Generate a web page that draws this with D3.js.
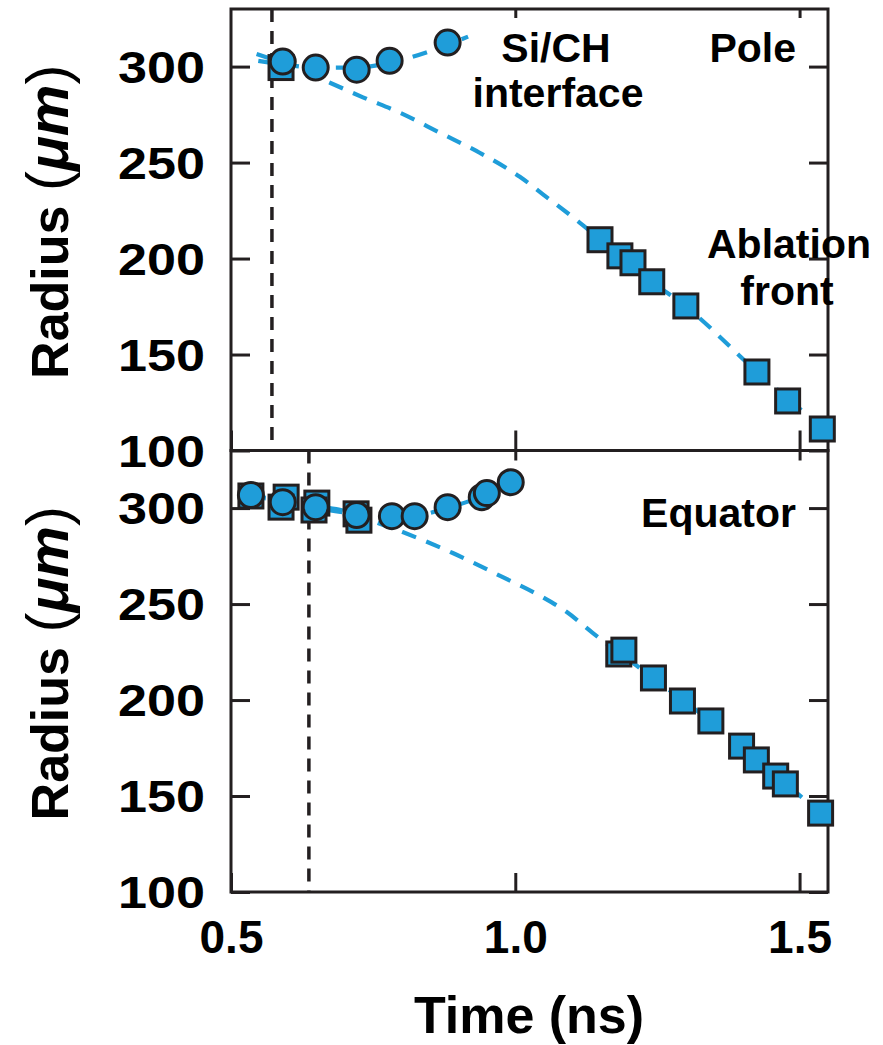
<!DOCTYPE html>
<html>
<head>
<meta charset="utf-8">
<script src="https://cdn.jsdelivr.net/npm/d3@7"></script>
<style>
	body { margin: 0; background: #fff; }
	svg text { font-family: "Liberation Sans", Arial, Helvetica, sans-serif; font-weight: bold; fill: #000; }
</style>
</head>
<body>
<div class="container"></div>
<script>
// pole panel
var poleIfaceT = [0.591, 0.649, 0.721, 0.779, 0.881],
	poleIfaceR = [302.6, 299.5, 298.4, 303, 312.5],
	poleAblT = [0.588, 1.149, 1.184, 1.207, 1.240, 1.300, 1.425, 1.479, 1.540],
	poleAblR = [299.5, 209.8, 201.4, 197.8, 187.9, 175.3, 140.9, 125.8, 111.2],
	poleIfaceFitT = [0.548, 0.60, 0.65, 0.72, 0.78, 0.85, 0.917],
	poleIfaceFitR = [303, 300.8, 299.4, 299.5, 302, 308, 315.6],
	poleAblFitT = [0.545, 0.59, 0.674, 0.732, 0.797, 0.867, 0.938, 1.008, 1.055, 1.108, 1.149, 1.24, 1.30, 1.425, 1.503],
	poleAblFitR = [306.5, 302, 291.6, 284, 276, 265.6, 255, 242.6, 232, 220, 210, 188, 175, 141, 121],
	poleOnset = 0.572;

// equator panel
var eqIfaceT = [0.535, 0.591, 0.649, 0.721, 0.783, 0.823, 0.881, 0.941, 0.950, 0.992],
	eqIfaceR = [306.8, 303.1, 300.5, 296.4, 295.8, 295.8, 300.5, 305.7, 307.8, 313.5],
	eqAblT = [0.535, 0.597, 0.588, 0.651, 0.646, 0.720, 0.725, 1.182, 1.191, 1.243, 1.294, 1.344, 1.398, 1.424, 1.458, 1.475, 1.537],
	eqAblR = [306.3, 305.7, 300.5, 302.6, 299, 297, 293.7, 224, 226, 211.5, 199.5, 189.1, 176, 168.8, 160.4, 156.3, 141.1],
	eqIfaceFitT = [0.535, 0.59, 0.65, 0.72, 0.78, 0.83, 0.88, 0.94, 0.992],
	eqIfaceFitR = [307, 303.5, 300, 297, 296, 296.5, 300, 306, 313.5],
	eqAblFitT = [0.535, 0.60, 0.65, 0.70, 0.744, 0.802, 0.890, 0.978, 1.048, 1.09, 1.136, 1.19, 1.243, 1.294, 1.344, 1.398, 1.458, 1.509],
	eqAblFitR = [306, 303.5, 301, 298.5, 293.8, 287.5, 276.6, 264, 253.6, 246, 235, 223, 211.5, 200, 189, 176, 161, 148],
	eqOnset = 0.637;

var yTicks = [100, 150, 200, 250, 300],
	xTicks = [0.5, 1.0, 1.5],
	xDomain = [0.5, 1.55],
	yDomain = [100, 330];

var WIDTH = 883,
	HEIGHT = 1045,
	LEFT = 231,
	RIGHT = 828,
	PANEL_H = 441.5,
	TOP = 9,
	BLUE = '#1f9dd9',
	INK = '#231f20';

function translate(x, y) {
	return 'translate(' + x + ',' + y + ')';
}

function zip(a, b) {
	return a.map(function(d, i) { return {t: d, r: b[i]}; });
}

var svg, xScale, yScale;

function createPanel(opts) {
	var g = svg.append('g').attr('transform', translate(0, opts.top));

	// left axis with labels
	var yl = g.append('g')
		.attr('transform', translate(LEFT, 0))
		.call(d3.axisLeft(yScale).tickValues(yTicks).tickSize(-19).tickPadding(26));
	yl.selectAll('text')
		.style('font-size', '44px')
		.attr('dy', '0.36em')
		.attr('textLength', 87)
		.attr('lengthAdjust', 'spacingAndGlyphs');

	g.append('g')
		.attr('transform', translate(RIGHT, 0))
		.call(d3.axisRight(yScale).tickValues(yTicks).tickSize(-19).tickFormat(''));

	var xb = g.append('g')
		.attr('transform', translate(0, PANEL_H))
		.call(d3.axisBottom(xScale).tickValues(xTicks).tickSize(-opts.bottomTick)
			.tickPadding(28).tickFormat(opts.xLabels ? d3.format('.1f') : ''));
	xb.selectAll('text').style('font-size', '46px');

	g.append('g')
		.call(d3.axisTop(xScale).tickValues([1.0, 1.5]).tickSize(-opts.topTick).tickFormat(''));

	g.selectAll('.domain').remove();
	g.selectAll('.tick line').attr('stroke', INK).attr('stroke-width', 3);

	g.append('rect')
		.attr('x', LEFT).attr('y', 0)
		.attr('width', RIGHT - LEFT).attr('height', PANEL_H)
		.attr('fill', 'none').attr('stroke', INK).attr('stroke-width', 3);

	// onset marker
	g.append('line')
		.attr('x1', xScale(opts.onset)).attr('x2', xScale(opts.onset))
		.attr('y1', 0).attr('y2', PANEL_H)
		.attr('stroke', INK).attr('stroke-width', 3.5)
		.attr('stroke-dasharray', '13,9');

	var line = d3.line()
		.curve(d3.curveMonotoneX)
		.x(function(d) { return xScale(d.t); })
		.y(function(d) { return yScale(d.r); });

	[opts.ablFit, opts.ifaceFit].forEach(function(fit) {
		g.append('path')
			.datum(fit)
			.attr('d', line)
			.attr('fill', 'none')
			.attr('stroke', BLUE)
			.attr('stroke-width', 4.2)
			.attr('stroke-dasharray', '15,11');
	});

	g.selectAll('rect.sq')
		.data(opts.abl).enter()
		.append('rect')
		.attr('class', 'sq')
		.attr('x', function(d) { return xScale(d.t) - 12; })
		.attr('y', function(d) { return yScale(d.r) - 12; })
		.attr('width', 24).attr('height', 24)
		.attr('fill', BLUE).attr('stroke', INK).attr('stroke-width', 3);

	g.selectAll('circle.pt')
		.data(opts.iface).enter()
		.append('circle')
		.attr('class', 'pt')
		.attr('cx', function(d) { return xScale(d.t); })
		.attr('cy', function(d) { return yScale(d.r); })
		.attr('r', 12.5)
		.attr('fill', BLUE).attr('stroke', INK).attr('stroke-width', 3);

	// y title, thin parentheses and italic mu like the original
	var yt = g.append('text')
		.attr('transform', translate(68, PANEL_H / 2 - 8) + ' rotate(-90)')
		.attr('text-anchor', 'middle')
		.style('font-size', '52px');
	yt.append('tspan').text('Radius ');
	yt.append('tspan').style('font-weight', 'normal').style('font-size', '60px').text('(');
	yt.append('tspan').style('font-style', 'italic').style('font-size', '58px').text('\u03bcm');
	yt.append('tspan').style('font-weight', 'normal').style('font-size', '60px').text(')');

	opts.labels.forEach(function(l) {
		g.append('text')
			.attr('x', l.x).attr('y', l.y - opts.top)
			.attr('text-anchor', l.anchor)
			.style('font-size', '41px')
			.text(l.text);
	});

	return g;
}

window.onload = function() {
	svg = d3.select('.container').append('svg')
		.attr('width', WIDTH)
		.attr('height', HEIGHT);

	xScale = d3.scaleLinear().domain(xDomain).range([LEFT, RIGHT]);
	yScale = d3.scaleLinear().domain(yDomain).range([PANEL_H, 0]);

	createPanel({
		top: TOP,
		onset: poleOnset,
		iface: zip(poleIfaceT, poleIfaceR),
		abl: zip(poleAblT, poleAblR),
		ifaceFit: zip(poleIfaceFitT, poleIfaceFitR),
		ablFit: zip(poleAblFitT, poleAblFitR),
		bottomTick: 20,
		topTick: 9,
		xLabels: false,
		labels: [
			{text: 'Si/CH', x: 556, y: 62, anchor: 'middle'},
			{text: 'interface', x: 558, y: 107, anchor: 'middle'},
			{text: 'Pole', x: 796, y: 62, anchor: 'end'},
			{text: 'Ablation', x: 789, y: 258, anchor: 'middle'},
			{text: 'front', x: 787, y: 305, anchor: 'middle'}
		]
	});

	createPanel({
		top: TOP + PANEL_H,
		onset: eqOnset,
		iface: zip(eqIfaceT, eqIfaceR),
		abl: zip(eqAblT, eqAblR),
		ifaceFit: zip(eqIfaceFitT, eqIfaceFitR),
		ablFit: zip(eqAblFitT, eqAblFitR),
		bottomTick: 19,
		topTick: 10,
		xLabels: true,
		labels: [
			{text: 'Equator', x: 796, y: 527, anchor: 'end'}
		]
	});

	svg.append('text')
		.attr('x', 529).attr('y', 1033)
		.attr('text-anchor', 'middle')
		.style('font-size', '52px')
		.text('Time (ns)');
};
</script>
</body>
</html>
